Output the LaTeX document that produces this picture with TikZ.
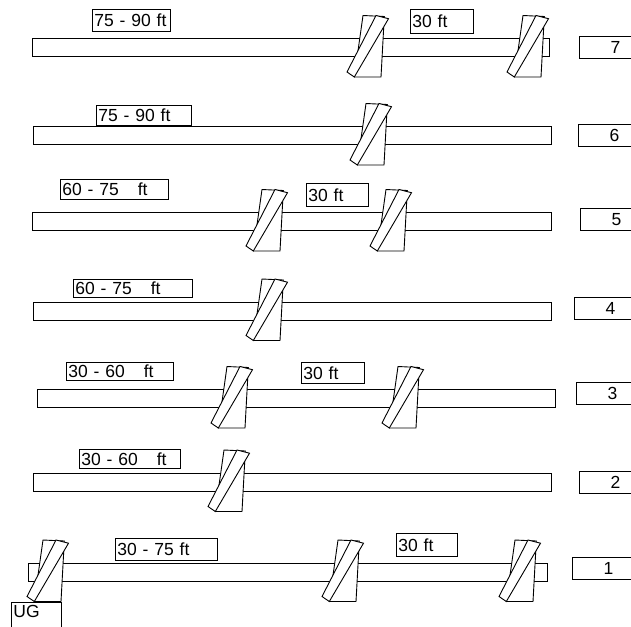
\documentclass[tikz,border=0pt]{standalone}
\usepackage{fontspec}
\setmainfont{Liberation Sans}
\tikzset{
    pipe/.style={draw, fill=white, minimum height=18pt, inner sep=0pt},
    tag/.style={draw, fill=white, anchor=north west, inner xsep=2pt, inner ysep=0pt, align=left, font=\fontsize{17.5}{19}\selectfont},
    floor/.style={draw, anchor=west, minimum width=72pt, minimum height=22pt, inner sep=0pt, font=\fontsize{17.5}{19}\selectfont},
    brk/.pic={
        \draw[fill=white] (-5,-32) -- (16.3,-31) -- (13,29.5) -- (-13.7,29.5) -- cycle;
        \draw[fill=white] (8,-32) -- (20.5,-28.8) -- (-13.7,29.5) -- (-21,24.5) -- cycle;
    }
}
\newcommand{\gapft}{\hspace{19pt}ft}

\begin{document}
\begin{tikzpicture}[x=1pt, y=-1pt, line width=0.9pt]
    \clip (0,0) rectangle (631,626);
    \useasboundingbox (0,0) rectangle (631,626);
    % pipes, top floor first
    \node[pipe, minimum width=517pt] (p7) at (290.5,47.5) {};
    \node[pipe, minimum width=518pt] (p6) at (292,135.5) {};
    \node[pipe, minimum width=519pt] (p5) at (291.5,221.5) {};
    \node[pipe, minimum width=518pt] (p4) at (292,311) {};
    \node[pipe, minimum width=518pt] (p3) at (296,398.5) {};
    \node[pipe, minimum width=518pt] (p2) at (292.5,482) {};
    \node[pipe, minimum width=519pt] (p1) at (287.5,572) {};
    % breaks
    \pic at (368,47.5) {brk};
    \pic at (528,47.5) {brk};
    \pic at (371,135.5) {brk};
    \pic at (267,221.5) {brk};
    \pic at (391,221.5) {brk};
    \pic at (267,311) {brk};
    \pic at (232,398.5) {brk};
    \pic at (403,398.5) {brk};
    \pic at (229,482) {brk};
    \pic at (48,572) {brk};
    \pic at (343,572) {brk};
    \pic at (520,572) {brk};
    % lengths
    \node[tag, text width=74pt, minimum height=22pt] (l7a) at (92,9) {75 - 90 ft};
    \node[tag, text width=59pt, minimum height=24pt] (l7b) at (410,9) {30 ft};
    \node[tag, text width=91pt, minimum height=20pt] (l6a) at (96,105) {75 - 90 ft};
    \node[tag, text width=104pt, minimum height=20pt] (l5a) at (60,179) {60 - 75\gapft};
    \node[tag, text width=58pt, minimum height=23pt] (l5b) at (306,183) {30 ft};
    \node[tag, text width=115pt, minimum height=18pt] (l4a) at (73,279) {60 - 75\gapft};
    \node[tag, text width=103pt, minimum height=18pt] (l3a) at (66,362) {30 - 60\gapft};
    \node[tag, text width=59pt, minimum height=21pt] (l3b) at (301,362) {30 ft};
    \node[tag, text width=97pt, minimum height=19pt] (l2a) at (79,449) {30 - 60\gapft};
    \node[tag, text width=98pt, minimum height=22pt] (l1a) at (115,538) {30 - 75 ft};
    \node[tag, text width=57pt, minimum height=23pt] (l1b) at (396,533) {30 ft};
    \node[tag, text width=46pt, minimum height=30pt, text depth=12pt] (ug) at (11,602) {UG};
    % floors
    \node[floor] (f7) at (579,47.2) {7};
    \node[floor] (f6) at (578,135.5) {6};
    \node[floor] (f5) at (580,219.5) {5};
    \node[floor] (f4) at (574,308.7) {4};
    \node[floor] (f3) at (576,393) {3};
    \node[floor] (f2) at (579,482) {2};
    \node[floor] (f1) at (572,568) {1};
\end{tikzpicture}
\end{document}
